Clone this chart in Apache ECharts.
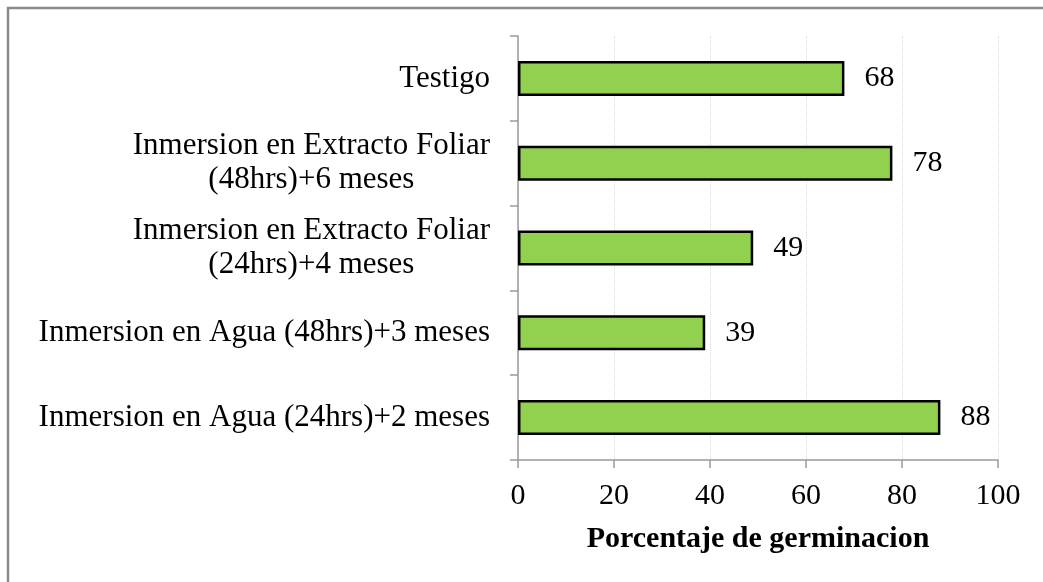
<!DOCTYPE html>
<html>
<head>
<meta charset="utf-8">
<script src="https://cdn.jsdelivr.net/npm/echarts@6/dist/echarts.min.js"></script>
<style>
  html, body { margin: 0; padding: 0; background: #fff; }
  #chart { width: 1043px; height: 582px; }
</style>
</head>
<body>
<div id="chart"></div>
<script>
"use strict";

// tratamientos, de arriba hacia abajo
const CATEGORIES = [
  "Testigo",
  "Inmersion en Extracto Foliar\n(48hrs)+6 meses",
  "Inmersion en Extracto Foliar\n(24hrs)+4 meses",
  "Inmersion en Agua (48hrs)+3 meses",
  "Inmersion en Agua (24hrs)+2 meses"
];
const GERMINACION = [68, 78, 49, 39, 88];
const X_TICKS = [0, 20, 40, 60, 80, 100];

const SERIF = "'Liberation Serif', 'DejaVu Serif', serif";
const AXIS_GRAY = "#9a9a9a";

const chart = echarts.init(document.getElementById("chart"), null, { renderer: "canvas" });
chart.setOption({
  animation: false,
  backgroundColor: "#fff",
  textStyle: { fontFamily: SERIF },
  graphic: [{
    type: "rect", silent: true,
    shape: { x: 8, y: 8, width: 1200, height: 800 },
    style: { fill: "none", stroke: "#8a8a8a", lineWidth: 2.5 }
  }],
  grid: { left: 518, right: 45, top: 36, bottom: 122 },
  xAxis: {
    type: "value",
    min: X_TICKS[0], max: X_TICKS[X_TICKS.length - 1], interval: 20,
    name: "Porcentaje de germinacion",
    nameLocation: "middle", nameGap: 64,
    nameTextStyle: { fontFamily: SERIF, fontSize: 30, fontWeight: "bold", color: "#000" },
    axisLine: { show: true, lineStyle: { color: AXIS_GRAY, width: 1.5 } },
    axisTick: { show: true, length: 8, lineStyle: { color: AXIS_GRAY, width: 1.5 } },
    axisLabel: { fontFamily: SERIF, fontSize: 30, color: "#000", margin: 21 },
    splitLine: { show: true, lineStyle: { color: "#d9d9d9", type: "dotted", width: 1 } }
  },
  yAxis: {
    type: "category",
    data: CATEGORIES,
    inverse: true,
    axisLine: { show: true, lineStyle: { color: AXIS_GRAY, width: 1.5 } },
    axisTick: { show: true, length: 8, lineStyle: { color: AXIS_GRAY, width: 1.5 } },
    axisLabel: {
      margin: 28, align: "right",
      formatter: v => v.split("\n").map(s => "{c|" + s + "}").join("\n"),
      rich: {
        c: { fontFamily: SERIF, fontSize: 31, lineHeight: 34, color: "#000", align: "center" }
      }
    },
    splitLine: { show: false }
  },
  series: [{
    type: "bar",
    data: GERMINACION,
    barWidth: 35,
    itemStyle: { color: "#92d050", borderColor: "#000", borderWidth: 2.5 },
    label: {
      show: true, position: "right", distance: 20,
      fontFamily: SERIF, fontSize: 30, color: "#000"
    }
  }]
});
</script>
</body>
</html>
